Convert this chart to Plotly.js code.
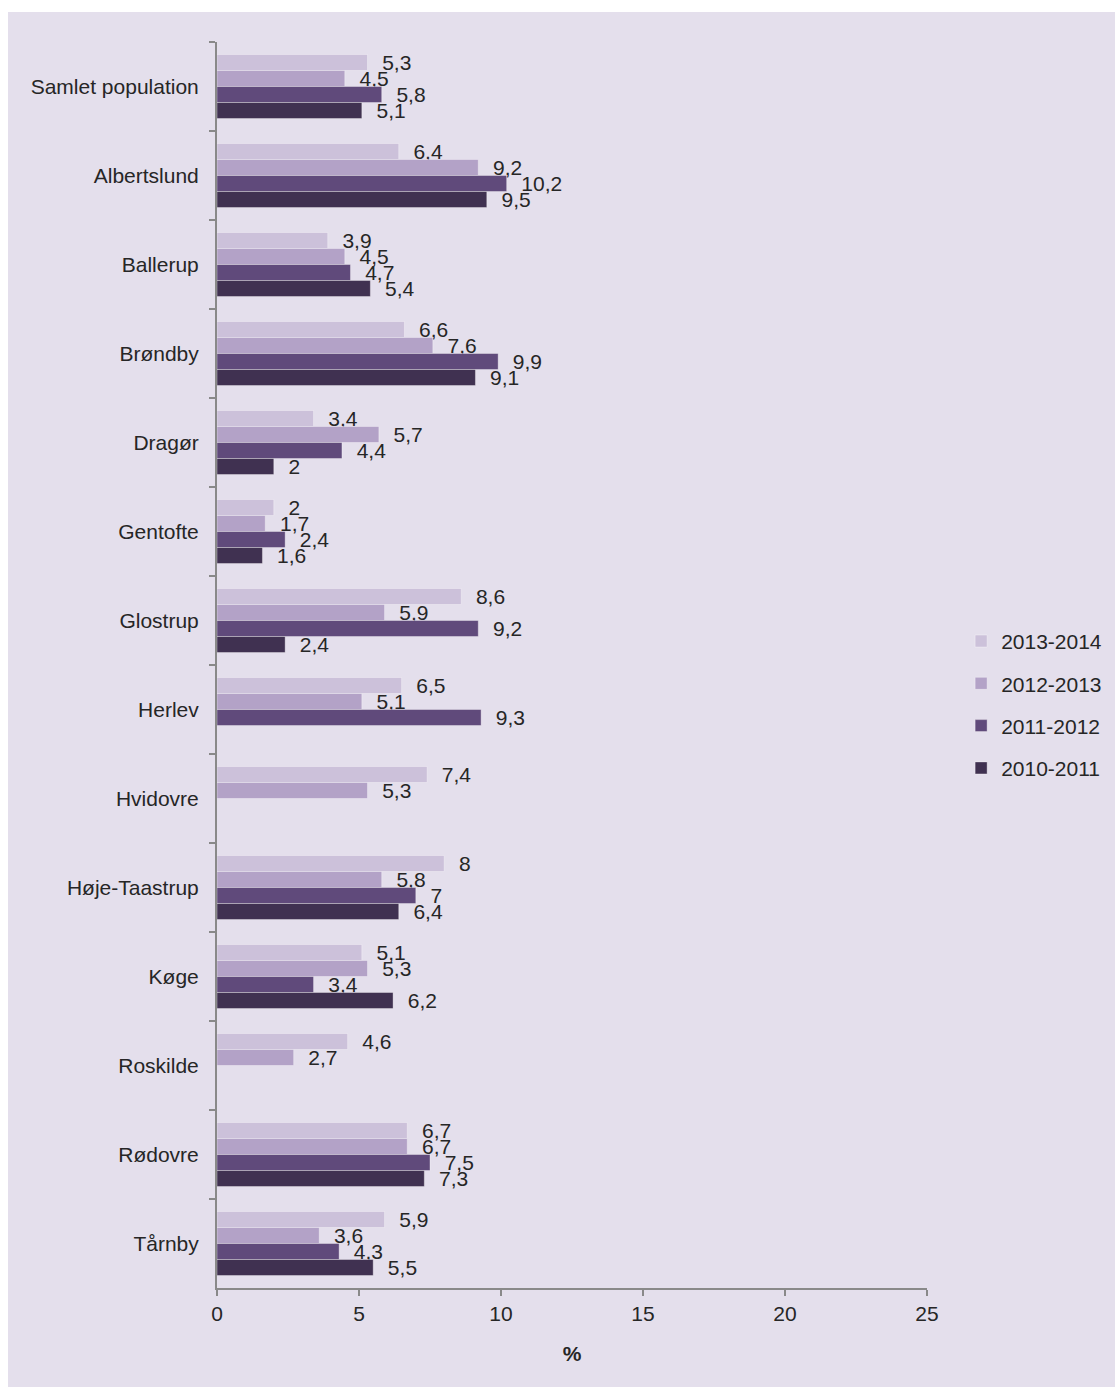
<!DOCTYPE html>
<html>
<head>
<meta charset="utf-8">
<script src="https://cdn.plot.ly/plotly-3.0.1.min.js"></script>
<style>
  html, body { margin: 0; padding: 0; background: #ffffff; }
  #chart { position: absolute; left: 8px; top: 12px; width: 1107px; height: 1375px; }
</style>
</head>
<body>
<div id="chart"></div>
<script>
const categories = ['Samlet population','Albertslund','Ballerup','Brøndby','Dragør','Gentofte','Glostrup','Herlev','Hvidovre','Høje-Taastrup','Køge','Roskilde','Rødovre','Tårnby'];
const seriesNames = ['2013-2014','2012-2013','2011-2012','2010-2011'];
const values_2013_2014 = [5.3, 6.4, 3.9, 6.6, 3.4, 2, 8.6, 6.5, 7.4, 8, 5.1, 4.6, 6.7, 5.9];
const values_2012_2013 = [4.5, 9.2, 4.5, 7.6, 5.7, 1.7, 5.9, 5.1, 5.3, 5.8, 5.3, 2.7, 6.7, 3.6];
const values_2011_2012 = [5.8, 10.2, 4.7, 9.9, 4.4, 2.4, 9.2, 9.3, null, 7, 3.4, null, 7.5, 4.3];
const values_2010_2011 = [5.1, 9.5, 5.4, 9.1, 2, 1.6, 2.4, null, null, 6.4, 6.2, null, 7.3, 5.5];
const xTicks = [0, 5, 10, 15, 20, 25];
const colors = ['#CCC1DA', '#B3A2C7', '#604A7B', '#403151'];

const allValues = [values_2013_2014, values_2012_2013, values_2011_2012, values_2010_2011];

function label(v) {
  if (v === null) return '';
  return '\u00a0\u00a0' + String(v).replace('.', ',');
}

const traces = allValues.map((vals, i) => ({
  type: 'bar',
  orientation: 'h',
  name: seriesNames[i],
  legendgroup: 'g' + i,
  x: vals,
  y: categories,
  text: vals.map(label),
  textposition: 'outside',
  constraintext: 'none',
  cliponaxis: false,
  textfont: { family: 'Liberation Sans, Arial, sans-serif', size: 21, color: '#262626' },
  marker: { color: colors[i], line: { color: 'rgba(255,255,255,0.35)', width: 1 } },
  hoverinfo: 'skip'
}));

const layout = {
  width: 1107,
  height: 1375,
  margin: { l: 209, r: 188, t: 30, b: 99, autoexpand: false },
  paper_bgcolor: '#E4DFEC',
  plot_bgcolor: '#E4DFEC',
  font: { family: 'Liberation Sans, Arial, sans-serif', size: 21, color: '#262626' },
  barmode: 'group',
  bargap: 0.28,
  bargroupgap: 0,
  showlegend: true,
  legend: {
    xref: 'container',
    x: 0.861, xanchor: 'left',
    y: 0.468, yanchor: 'middle',
    bgcolor: 'rgba(0,0,0,0)',
    font: { size: 21, color: '#262626' },
    tracegroupgap: 12,
    traceorder: 'grouped',
    itemwidth: 30
  },
  xaxis: {
    range: [0, 25],
    tickvals: xTicks,
    ticktext: xTicks.map(String),
    showgrid: false,
    zeroline: false,
    showline: true,
    linecolor: '#898989',
    linewidth: 2,
    ticks: 'outside',
    ticklen: 6,
    tickwidth: 2,
    tickcolor: '#898989',
    tickfont: { size: 21, color: '#262626' },
    title: { text: '<b>%</b>', font: { size: 21, color: '#262626' }, standoff: 22 }
  },
  yaxis: {
    type: 'category',
    autorange: 'reversed',
    tickson: 'boundaries',
    showgrid: false,
    zeroline: false,
    showline: true,
    linecolor: '#898989',
    linewidth: 2,
    ticks: 'outside',
    ticklen: 6,
    tickwidth: 2,
    tickcolor: '#898989',
    ticklabelstandoff: 12,
    tickfont: { size: 21, color: '#262626' }
  }
};

Plotly.newPlot('chart', traces, layout, { displayModeBar: false, staticPlot: true });
</script>
</body>
</html>
